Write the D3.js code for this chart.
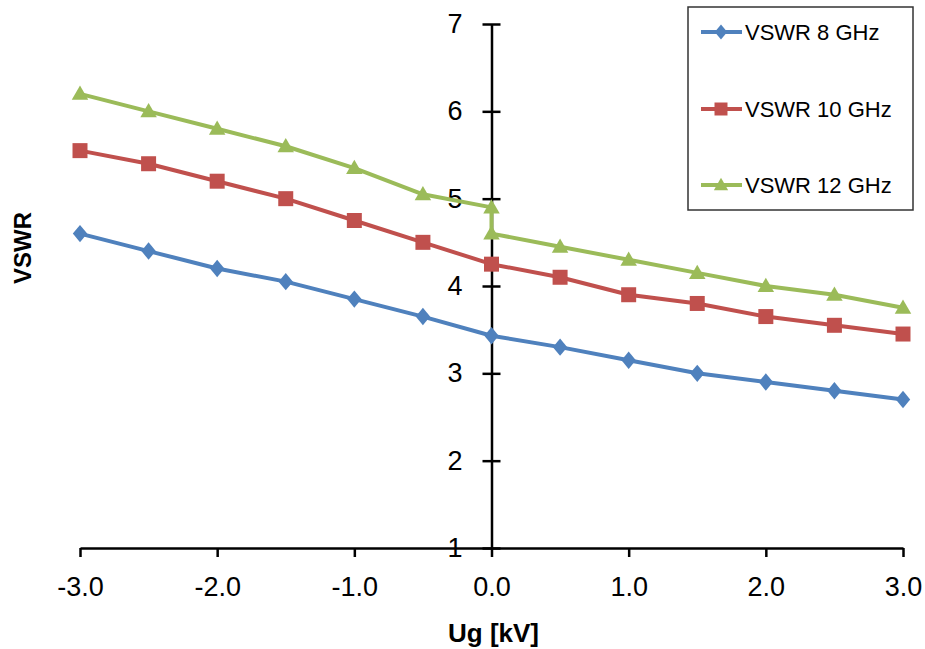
<!DOCTYPE html>
<html><head><meta charset="utf-8">
<script src="https://cdn.jsdelivr.net/npm/d3@7"></script>
<style>
html,body{margin:0;padding:0;background:#fff;}
text{font-family:"Liberation Sans",Arial,sans-serif;fill:#000;}
</style></head>
<body>
<svg id="chart" width="925" height="649"></svg>
<script>
// ---- data ----
const xTicks = [-3, -2, -1, 0, 1, 2, 3];
const yTicks = [1, 2, 3, 4, 5, 6, 7];
const xValues8 = [-3, -2.5, -2, -1.5, -1, -0.5, 0, 0.5, 1, 1.5, 2, 2.5, 3];
const vswr8 = [4.6, 4.4, 4.2, 4.05, 3.85, 3.65, 3.43, 3.3, 3.15, 3.0, 2.9, 2.8, 2.7];
const xValues10 = [-3, -2.5, -2, -1.5, -1, -0.5, 0, 0.5, 1, 1.5, 2, 2.5, 3];
const vswr10 = [5.55, 5.4, 5.2, 5.0, 4.75, 4.5, 4.25, 4.1, 3.9, 3.8, 3.65, 3.55, 3.45];
const xValues12 = [-3, -2.5, -2, -1.5, -1, -0.5, 0, 0, 0.5, 1, 1.5, 2, 2.5, 3];
const vswr12 = [6.2, 6.0, 5.8, 5.6, 5.35, 5.05, 4.9, 4.6, 4.45, 4.3, 4.15, 4.0, 3.9, 3.75];
const seriesNames = ["VSWR 8 GHz", "VSWR 10 GHz", "VSWR 12 GHz"];
const seriesColors = ["#4F81BD", "#C0504D", "#9BBB59"];
const markerTypes = ["diamond", "square", "triangle"];

const series = [
  {name: seriesNames[0], xs: xValues8, ys: vswr8, color: seriesColors[0], marker: markerTypes[0]},
  {name: seriesNames[1], xs: xValues10, ys: vswr10, color: seriesColors[1], marker: markerTypes[1]},
  {name: seriesNames[2], xs: xValues12, ys: vswr12, color: seriesColors[2], marker: markerTypes[2]}
];

const svg = d3.select("#chart");
const x = d3.scaleLinear().domain([-3, 3]).range([80, 903]);
const y = d3.scaleLinear().domain([1, 7]).range([548, 24]);

function markerPath(type, s) {
  if (type === "diamond") return `M0,${-s*0.58}L${s*0.48},0L0,${s*0.58}L${-s*0.48},0Z`;
  if (type === "square") return `M${-s/2},${-s/2}h${s}v${s}h${-s}Z`;
  return `M0,${-s*0.55}L${s*0.55},${s*0.4}L${-s*0.55},${s*0.4}Z`;
}

// ---- axes ----
const fmtX = d => d3.format(".1f")(d).replace("\u2212", "-");
const xAxis = d3.axisBottom(x).tickValues(xTicks).tickFormat(fmtX)
  .tickSizeInner(9).tickSizeOuter(0).tickPadding(20);
const gx = svg.append("g").attr("transform", `translate(0,${y(1)})`).call(xAxis);
gx.select(".domain").attr("stroke", "#000").attr("stroke-width", 2.5);
gx.selectAll(".tick line").attr("stroke", "#000").attr("stroke-width", 2.5);
gx.selectAll(".tick text").style("font-size", "27px").attr("font-family", null);

const yAxis = d3.axisLeft(y).tickValues(yTicks).tickFormat(d3.format("d"))
  .tickSizeInner(9).tickSizeOuter(0).tickPadding(20);
const gy = svg.append("g").attr("transform", `translate(${x(0)},0)`).call(yAxis);
gy.select(".domain").attr("stroke", "#000").attr("stroke-width", 2.5);
gy.selectAll(".tick line").attr("x1", -9).attr("x2", 9).attr("stroke", "#000").attr("stroke-width", 2.5);
gy.selectAll(".tick text").style("font-size", "27px").attr("font-family", null);

// ---- series ----
const line = d3.line().x(d => x(d[0])).y(d => y(d[1]));
series.forEach(s => {
  const pts = s.xs.map((v, i) => [v, s.ys[i]]);
  svg.append("path").datum(pts).attr("d", line)
    .attr("fill", "none").attr("stroke", s.color).attr("stroke-width", 4)
    .attr("stroke-linejoin", "round");
  svg.append("g").selectAll("path").data(pts).join("path")
    .attr("transform", d => `translate(${x(d[0])},${y(d[1])})`)
    .attr("d", markerPath(s.marker, 15))
    .attr("fill", s.color);
});

// ---- axis titles ----
svg.append("text").attr("x", x(0) + 2).attr("y", 642).attr("text-anchor", "middle")
  .style("font-size", "26px").style("font-weight", "bold").text("Ug [kV]");
svg.append("text").attr("transform", "translate(31,248) rotate(-90)").attr("text-anchor", "middle")
  .style("font-size", "24px").style("font-weight", "bold").text("VSWR");

// ---- legend ----
const lg = svg.append("g");
lg.append("rect").attr("x", 688).attr("y", 7).attr("width", 225).attr("height", 203)
  .attr("fill", "#fff").attr("stroke", "#333").attr("stroke-width", 1.5);
const legendY = [32, 109, 185];
series.forEach((s, i) => {
  const g = lg.append("g").attr("transform", `translate(0,${legendY[i]})`);
  g.append("line").attr("x1", 701).attr("x2", 742).attr("y1", 0).attr("y2", 0)
    .attr("stroke", s.color).attr("stroke-width", 4);
  g.append("path").attr("transform", "translate(721,0)").attr("d", markerPath(s.marker, 13)).attr("fill", s.color);
  g.append("text").attr("x", 745).attr("y", 0).attr("dy", "0.36em")
    .style("font-size", "22px").text(s.name);
});
</script>
</body></html>
